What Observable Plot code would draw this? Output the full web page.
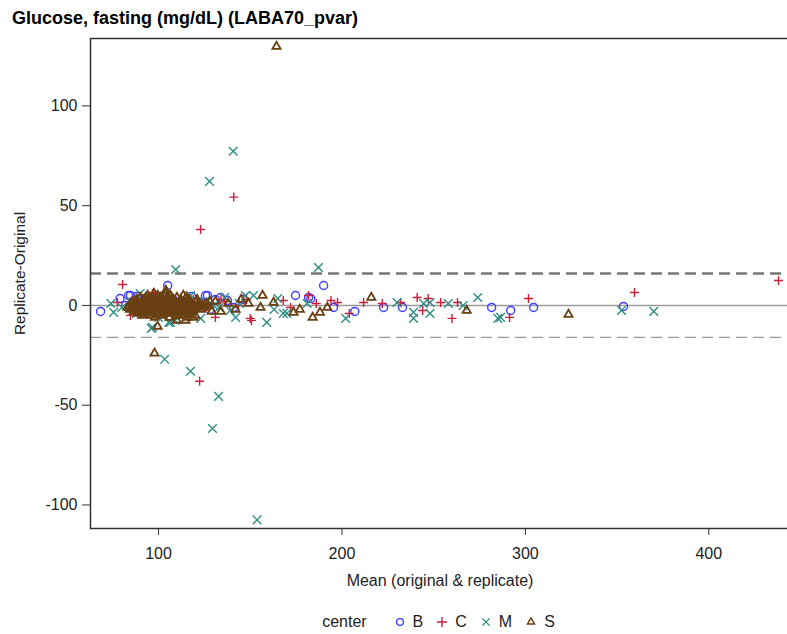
<!DOCTYPE html>
<html><head><meta charset="utf-8">
<script src="https://cdn.jsdelivr.net/npm/d3@7"></script>
<script src="https://cdn.jsdelivr.net/npm/@observablehq/plot@0.6"></script>
<style>
body{margin:0;background:#fff;font-family:"Liberation Sans",Arial,sans-serif;}
#title{height:30px;box-sizing:border-box;padding:9px 0 0 12px;font-weight:bold;font-size:18px;line-height:18px;color:#000;white-space:nowrap;}
#chart svg{display:block;}
#legend{height:32px;box-sizing:border-box;padding:8px 0 0 90px;display:flex;justify-content:center;align-items:center;font-size:16px;line-height:18px;color:#222;}
#legend .it{display:inline-flex;align-items:center;margin-left:13px;}
#legend .it svg{margin-right:7px;}
</style></head><body>
<div id="title"></div><div id="chart"></div><div id="legend"></div>
<script>
const title = "Glucose, fasting (mg/dL) (LABA70_pvar)";
const xLabel = "Mean (original & replicate)";
const yLabel = "Replicate-Original";
const legendTitle = "center";
const centers = ["B", "C", "M", "S"];
const centerColors = ["#3d3dff", "#cc1f3a", "#2f8c82", "#6a4012"];
const centerSymbols = ["circle", "plus", "times", "triangle2"];
const xTicks = [100, 200, 300, 400];
const yTicks = [-100, -50, 0, 50, 100];
const limits = [16, -16];

const bX = [68.4, 79, 82, 83.6, 84.7, 86, 88, 90, 93, 95, 98, 100, 103, 105, 108, 110, 113, 116, 118, 120, 123, 125.6, 126.7, 128, 131, 133.8, 137.6, 141, 146, 174.7, 181.8, 183, 190, 195.4, 207, 222.7, 233, 281.6, 292, 304.5, 353.5];
const bY = [-3, 3.5, 0, 5, 5, 2, 4.5, 3, -2, 2, 4, -2, 3, 10, 3, 1, 2, -1, 4.5, -2, 1, 5, 5, -2, 3, 4, 2.5, -1, 3, 5, 4, 3.5, 10, -1, -3, -1, -1, -1, -2.5, -1, -0.5];

const cX = [77.6, 80.4, 84.7, 91, 96.7, 97.3, 102, 107, 111, 115, 119, 122.4, 122.9, 126, 131, 134, 136, 141, 143.6, 148, 150, 150.7, 168, 172, 181.8, 186, 194, 197.6, 204, 211.8, 222, 232, 241, 244, 247, 253.8, 260, 263, 291.4, 301.7, 359.5, 438];
const cY = [1.5, 10.5, -5, 2, 6, 6.5, -3, 4, -2, 1, 3, -38, 38.1, -1, -6, 3, 2, 54.3, 0, 3, -6.5, -7.5, 2.5, -1, 5, 1, 2.5, 1.5, -4, 1.5, 1, 1.5, 4, -2.5, 3.5, 1.5, -6.5, 1.5, -6, 3.5, 6.5, 12.5];

const mX = [74, 75.5, 80, 85, 88, 90, 92, 96, 96.7, 100, 102, 103.3, 105.5, 106.5, 109, 109.3, 112, 114, 117.4, 117.5, 119, 123, 125, 127.8, 129.4, 130, 132.7, 133, 136, 139, 140.7, 142, 144, 147.4, 151.8, 153.7, 159, 163, 165, 168, 170, 181, 187.2, 202, 230, 239, 239, 244.5, 248, 248, 258, 266, 274, 285, 286.5, 352.4, 370];
const mY = [1, -3.5, -1, 2, -4, 6, 4, -11.5, -11, -6, 5, -27, -8.5, -8.5, -7.5, 18, -5, 3, -33, 5, -3, -6.5, 2, 62.2, -61.7, 0, -45.6, -1, 4, -2.5, 77.3, -6, 1, 5, 5, -107.5, -8.5, -2, 3.5, -4, -4, 1, 19, -6.5, 1.5, -3.5, -6.5, 1, 1.5, -4, 1, 0, 4, -6.5, -6, -2.5, -3];

const sX = [
  84, 86.5, 88, 89.5, 91, 92, 93.5, 95, 96, 97.5, 99, 100, 101.5, 103, 104, 105.5, 107, 108, 109.5, 111, 112.5, 114, 115, 117, 119, 121, 124, 127,
  85, 87, 89, 90.5, 92, 94, 95.5, 97, 98.5, 100, 102, 103.5, 105, 107, 108.5, 110, 112, 114, 116, 118, 122, 126,
  83, 86, 88, 90, 91.5, 93, 94.5, 96, 98, 99.5, 101, 102.5, 104, 106, 107.5, 109, 111, 113, 115, 117.5, 120, 125,
  86, 88.5, 91, 93, 95, 97, 99, 101, 103, 105, 107, 109, 111.5, 114, 117, 120.5, 128,
  84.5, 87.5, 90, 92.5, 94, 96.5, 98.5, 100.5, 102, 104.5, 106.5, 108.5, 110.5, 113, 116, 119, 123,
  88, 91.5, 94.5, 97, 100, 102.5, 106, 108, 112, 116.5, 121,
  86.5, 89.5, 93, 95.5, 99, 102, 105, 108, 111, 114.5, 118.5, 129,
  90, 93, 96.5, 101, 104.5, 110, 115,
  88.5, 92, 97, 100, 103.5, 107, 112, 117,
  94, 99.5, 106.5, 113.5,
  91, 96, 101.5, 109.5, 114, 120,
  97.5, 104,
  98, 106, 115.5,
  104, 114.7, 110, 119, 131, 134, 138, 142, 145, 149, 155.6, 156.7, 162.7, 173.6, 177, 184, 188, 192, 216, 268, 323.5, 164.3, 97.8, 99.5
];
const sY = [
  0, 0, 0, 0, 0, 0, 0, 0, 0, 0, 0, 0, 0, 0, 0, 0, 0, 0, 0, 0, 0, 0, 0, 0, 0, 0, 0, 0,
  1, 1, 1, 1, 1, 1, 1, 1, 1, 1, 1, 1, 1, 1, 1, 1, 1, 1, 1, 1, 1, 1,
  -1, -1, -1, -1, -1, -1, -1, -1, -1, -1, -1, -1, -1, -1, -1, -1, -1, -1, -1, -1, -1, -1,
  2, 2, 2, 2, 2, 2, 2, 2, 2, 2, 2, 2, 2, 2, 2, 2, 2,
  -2, -2, -2, -2, -2, -2, -2, -2, -2, -2, -2, -2, -2, -2, -2, -2, -2,
  3, 3, 3, 3, 3, 3, 3, 3, 3, 3, 3,
  -3, -3, -3, -3, -3, -3, -3, -3, -3, -3, -3, -3,
  4, 4, 4, 4, 4, 4, 4,
  -4, -4, -4, -4, -4, -4, -4, -4,
  5, 5, 5, 5,
  -5, -5, -5, -5, -5, -5,
  6, 6,
  -6, -6, -6,
  7.5, -7.5, -7.5, -6, 2, -3, 1, -2, 3, 1, -1, 5, 1.5, -3.5, -2, -6, -3.5, -1, 4, -2.5, -4.5, 129.8, -24, -10.5
];

const seriesX = [bX, cX, mX, sX];
const seriesY = [bY, cY, mY, sY];
const symbolR = [4, 3, 4, 3.9];
const symbolW = [1.4, 1.4, 1.4, 1.8];

document.getElementById("title").textContent = title;

const series = centers.map((c, i) => {
  if (seriesX[i].length !== seriesY[i].length) console.error("length mismatch", c, seriesX[i].length, seriesY[i].length);
  return seriesX[i].map((x, j) => ({x, y: seriesY[i][j], center: c}));
});

const plot = Plot.plot({
  width: 787,
  height: 572,
  marginTop: 8,
  marginLeft: 90,
  marginRight: -2,
  marginBottom: 74,
  style: {fontFamily: "'Liberation Sans', Arial, sans-serif", fontSize: "16px", color: "#222", background: "#fff"},
  x: {domain: [62.9, 444]},
  y: {domain: [-111.8, 133.8]},
  marks: [
    Plot.ruleY([0], {stroke: "#9a9a9a", strokeWidth: 1.5}),
    Plot.ruleY([limits[0]], {stroke: "#777", strokeWidth: 2.6, strokeDasharray: "11,6"}),
    Plot.ruleY([limits[1]], {stroke: "#999", strokeWidth: 1.4, strokeDasharray: "11,6"}),
    ...series.map((d, i) => Plot.dot(d, {x: "x", y: "y", symbol: () => centerSymbols[i], r: symbolR[i], stroke: centerColors[i], fill: "none", strokeWidth: symbolW[i]})),
    Plot.frame({stroke: "#333", strokeWidth: 1.5}),
    Plot.axisX({ticks: xTicks, tickSize: 7, tickPadding: 12, label: null, tickFormat: d => String(d), stroke: "#333", fontSize: 16}),
    Plot.axisY({ticks: yTicks, tickSize: 8, tickPadding: 5, label: null, tickFormat: d => String(d), stroke: "#333", fontSize: 16}),
    Plot.text([xLabel], {frameAnchor: "bottom", dy: 57, fontSize: 16, fill: "#222"}),
    Plot.text([yLabel], {frameAnchor: "left", textAnchor: "middle", rotate: -90, dx: -70, dy: -10, fontSize: 15.5, fill: "#222"})
  ]
});
document.getElementById("chart").appendChild(plot);

// legend
const leg = document.getElementById("legend");
const lt = document.createElement("span");
lt.textContent = legendTitle;
lt.style.marginRight = "14px";
leg.appendChild(lt);
const symMap = {circle: d3.symbolCircle, plus: d3.symbolPlus, times: d3.symbolTimes, triangle2: d3.symbolTriangle2};
centers.forEach((c, i) => {
  const it = document.createElement("span");
  it.className = "it";
  const svg = d3.create("svg").attr("width", 12).attr("height", 12);
  svg.append("path")
    .attr("transform", "translate(6,6)")
    .attr("d", d3.symbol(symMap[centerSymbols[i]], 36)())
    .attr("fill", "none").attr("stroke", centerColors[i]).attr("stroke-width", 1.4);
  it.appendChild(svg.node());
  const t = document.createElement("span");
  t.textContent = c;
  it.appendChild(t);
  leg.appendChild(it);
});
</script>
</body></html>
